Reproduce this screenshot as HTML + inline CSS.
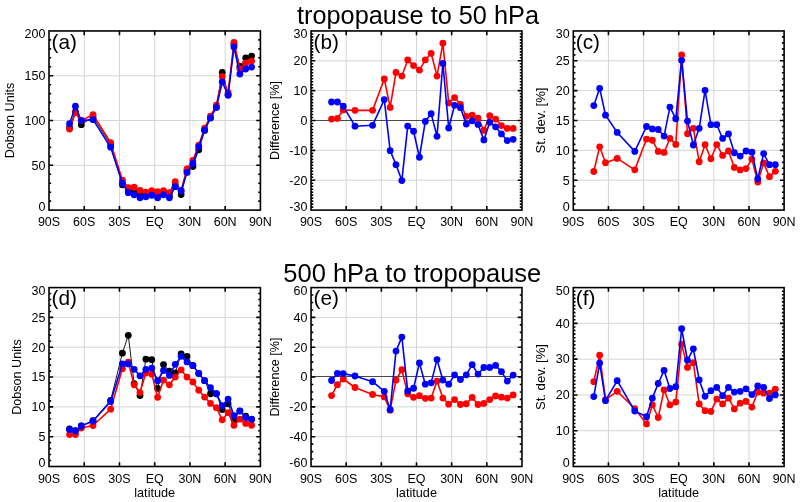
<!DOCTYPE html>
<html><head><meta charset="utf-8"><style>
html,body{margin:0;padding:0;background:#fff;}
svg{display:block;will-change:transform;}
</style></head><body>
<svg width="800" height="502" viewBox="0 0 800 502" font-family="&quot;Liberation Sans&quot;, sans-serif" fill="#000">
<rect width="800" height="502" fill="#fff"/>
<text x="418" y="23.6" font-size="25.3" text-anchor="middle">tropopause to 50 hPa</text>
<text x="412.3" y="281.5" font-size="25.5" text-anchor="middle">500 hPa to tropopause</text>
<g stroke="#d6d6d6" stroke-width="1"><line x1="84.23" y1="30.95" x2="84.23" y2="210.1"/><line x1="119.47" y1="30.95" x2="119.47" y2="210.1"/><line x1="154.7" y1="30.95" x2="154.7" y2="210.1"/><line x1="189.93" y1="30.95" x2="189.93" y2="210.1"/><line x1="225.17" y1="30.95" x2="225.17" y2="210.1"/><line x1="49" y1="165.31" x2="260.4" y2="165.31"/><line x1="49" y1="120.52" x2="260.4" y2="120.52"/><line x1="49" y1="75.74" x2="260.4" y2="75.74"/></g>
<polyline points="69.55,127.69 75.42,111.57 81.3,124.65 93.04,116.94 110.66,144.71 122.4,184.75 128.28,190.39 134.15,191.29 140.02,193.98 145.89,194.87 151.76,193.98 157.64,195.77 163.51,193.98 169.38,195.77 175.25,185.02 181.12,194.6 187,170.69 192.87,166.48 198.74,149.82 204.61,130.38 210.49,117.84 216.36,107.09 222.23,72.42 228.1,94.55 233.97,44.39 239.85,66.51 245.72,58 251.59,56.03" fill="none" stroke="#000" stroke-width="0.9" stroke-linejoin="round"/>
<g fill="#000"><circle cx="69.55" cy="127.69" r="3.4"/><circle cx="75.42" cy="111.57" r="3.4"/><circle cx="81.3" cy="124.65" r="3.4"/><circle cx="93.04" cy="116.94" r="3.4"/><circle cx="110.66" cy="144.71" r="3.4"/><circle cx="122.4" cy="184.75" r="3.4"/><circle cx="128.28" cy="190.39" r="3.4"/><circle cx="134.15" cy="191.29" r="3.4"/><circle cx="140.02" cy="193.98" r="3.4"/><circle cx="145.89" cy="194.87" r="3.4"/><circle cx="151.76" cy="193.98" r="3.4"/><circle cx="157.64" cy="195.77" r="3.4"/><circle cx="163.51" cy="193.98" r="3.4"/><circle cx="169.38" cy="195.77" r="3.4"/><circle cx="175.25" cy="185.02" r="3.4"/><circle cx="181.12" cy="194.6" r="3.4"/><circle cx="187" cy="170.69" r="3.4"/><circle cx="192.87" cy="166.48" r="3.4"/><circle cx="198.74" cy="149.82" r="3.4"/><circle cx="204.61" cy="130.38" r="3.4"/><circle cx="210.49" cy="117.84" r="3.4"/><circle cx="216.36" cy="107.09" r="3.4"/><circle cx="222.23" cy="72.42" r="3.4"/><circle cx="228.1" cy="94.55" r="3.4"/><circle cx="233.97" cy="44.39" r="3.4"/><circle cx="239.85" cy="66.51" r="3.4"/><circle cx="245.72" cy="58" r="3.4"/><circle cx="251.59" cy="56.03" r="3.4"/></g>
<polyline points="69.55,129.12 75.42,112.64 81.3,120.52 93.04,114.61 110.66,142.65 122.4,180.27 128.28,187.71 134.15,187.26 140.02,190.3 145.89,192.27 151.76,190.75 157.64,191.74 163.51,190.75 169.38,192.72 175.25,181.7 181.12,190.39 187,168.81 192.87,160.48 198.74,145.16 204.61,128.14 210.49,116.05 216.36,105.12 222.23,76.72 228.1,92.67 233.97,42.51 239.85,69.02 245.72,63.02 251.59,61.05" fill="none" stroke="#ff0000" stroke-width="1.6" stroke-linejoin="round"/>
<g fill="#ff0000"><circle cx="69.55" cy="129.12" r="3.4"/><circle cx="75.42" cy="112.64" r="3.4"/><circle cx="81.3" cy="120.52" r="3.4"/><circle cx="93.04" cy="114.61" r="3.4"/><circle cx="110.66" cy="142.65" r="3.4"/><circle cx="122.4" cy="180.27" r="3.4"/><circle cx="128.28" cy="187.71" r="3.4"/><circle cx="134.15" cy="187.26" r="3.4"/><circle cx="140.02" cy="190.3" r="3.4"/><circle cx="145.89" cy="192.27" r="3.4"/><circle cx="151.76" cy="190.75" r="3.4"/><circle cx="157.64" cy="191.74" r="3.4"/><circle cx="163.51" cy="190.75" r="3.4"/><circle cx="169.38" cy="192.72" r="3.4"/><circle cx="175.25" cy="181.7" r="3.4"/><circle cx="181.12" cy="190.39" r="3.4"/><circle cx="187" cy="168.81" r="3.4"/><circle cx="192.87" cy="160.48" r="3.4"/><circle cx="198.74" cy="145.16" r="3.4"/><circle cx="204.61" cy="128.14" r="3.4"/><circle cx="210.49" cy="116.05" r="3.4"/><circle cx="216.36" cy="105.12" r="3.4"/><circle cx="222.23" cy="76.72" r="3.4"/><circle cx="228.1" cy="92.67" r="3.4"/><circle cx="233.97" cy="42.51" r="3.4"/><circle cx="239.85" cy="69.02" r="3.4"/><circle cx="245.72" cy="63.02" r="3.4"/><circle cx="251.59" cy="61.05" r="3.4"/></g>
<polyline points="69.55,123.66 75.42,106.19 81.3,120.61 93.04,119.63 110.66,147.22 122.4,183.23 128.28,192.72 134.15,194.78 140.02,197.74 145.89,196.75 151.76,195.23 157.64,197.74 163.51,194.78 169.38,197.74 175.25,186.72 181.12,191.02 187,172.39 192.87,163.52 198.74,146.77 204.61,130.11 210.49,117.93 216.36,107.54 222.23,82.01 228.1,95.26 233.97,46.98 239.85,74.04 245.72,69.02 251.59,67.05" fill="none" stroke="#0000ff" stroke-width="1.6" stroke-linejoin="round"/>
<g fill="#0000ff"><circle cx="69.55" cy="123.66" r="3.4"/><circle cx="75.42" cy="106.19" r="3.4"/><circle cx="81.3" cy="120.61" r="3.4"/><circle cx="93.04" cy="119.63" r="3.4"/><circle cx="110.66" cy="147.22" r="3.4"/><circle cx="122.4" cy="183.23" r="3.4"/><circle cx="128.28" cy="192.72" r="3.4"/><circle cx="134.15" cy="194.78" r="3.4"/><circle cx="140.02" cy="197.74" r="3.4"/><circle cx="145.89" cy="196.75" r="3.4"/><circle cx="151.76" cy="195.23" r="3.4"/><circle cx="157.64" cy="197.74" r="3.4"/><circle cx="163.51" cy="194.78" r="3.4"/><circle cx="169.38" cy="197.74" r="3.4"/><circle cx="175.25" cy="186.72" r="3.4"/><circle cx="181.12" cy="191.02" r="3.4"/><circle cx="187" cy="172.39" r="3.4"/><circle cx="192.87" cy="163.52" r="3.4"/><circle cx="198.74" cy="146.77" r="3.4"/><circle cx="204.61" cy="130.11" r="3.4"/><circle cx="210.49" cy="117.93" r="3.4"/><circle cx="216.36" cy="107.54" r="3.4"/><circle cx="222.23" cy="82.01" r="3.4"/><circle cx="228.1" cy="95.26" r="3.4"/><circle cx="233.97" cy="46.98" r="3.4"/><circle cx="239.85" cy="74.04" r="3.4"/><circle cx="245.72" cy="69.02" r="3.4"/><circle cx="251.59" cy="67.05" r="3.4"/></g>
<path d="M84.23 210.1v-4.2M84.23 30.95v4.2M119.47 210.1v-4.2M119.47 30.95v4.2M154.7 210.1v-4.2M154.7 30.95v4.2M189.93 210.1v-4.2M189.93 30.95v4.2M225.17 210.1v-4.2M225.17 30.95v4.2M49 201.14h2.2M260.4 201.14h-2.2M49 192.19h2.2M260.4 192.19h-2.2M49 183.23h2.2M260.4 183.23h-2.2M49 174.27h2.2M260.4 174.27h-2.2M49 165.31h4.2M260.4 165.31h-4.2M49 156.35h2.2M260.4 156.35h-2.2M49 147.4h2.2M260.4 147.4h-2.2M49 138.44h2.2M260.4 138.44h-2.2M49 129.48h2.2M260.4 129.48h-2.2M49 120.52h4.2M260.4 120.52h-4.2M49 111.57h2.2M260.4 111.57h-2.2M49 102.61h2.2M260.4 102.61h-2.2M49 93.65h2.2M260.4 93.65h-2.2M49 84.69h2.2M260.4 84.69h-2.2M49 75.74h4.2M260.4 75.74h-4.2M49 66.78h2.2M260.4 66.78h-2.2M49 57.82h2.2M260.4 57.82h-2.2M49 48.86h2.2M260.4 48.86h-2.2M49 39.91h2.2M260.4 39.91h-2.2" stroke="#000" stroke-width="1.6" fill="none"/>
<rect x="49" y="30.95" width="211.4" height="179.15" fill="none" stroke="#000" stroke-width="1.6"/>
<text x="51.5" y="48.75" font-size="20.8">(a)</text>
<g font-size="12.5" text-anchor="middle"><text x="49" y="226.3">90S</text><text x="84.23" y="226.3">60S</text><text x="119.47" y="226.3">30S</text><text x="154.7" y="226.3">EQ</text><text x="189.93" y="226.3">30N</text><text x="225.17" y="226.3">60N</text><text x="260.4" y="226.3">90N</text></g>
<g font-size="12.5" text-anchor="end"><text x="45.4" y="211">0</text><text x="45.4" y="169.61">50</text><text x="45.4" y="124.82">100</text><text x="45.4" y="80.04">150</text><text x="45.4" y="37.95">200</text></g>
<text transform="translate(14.05,120.52) rotate(-90)" font-size="12.6" text-anchor="middle">Dobson Units</text>
<g stroke="#d6d6d6" stroke-width="1"><line x1="346.2" y1="30.95" x2="346.2" y2="210.1"/><line x1="381.35" y1="30.95" x2="381.35" y2="210.1"/><line x1="416.5" y1="30.95" x2="416.5" y2="210.1"/><line x1="451.65" y1="30.95" x2="451.65" y2="210.1"/><line x1="486.8" y1="30.95" x2="486.8" y2="210.1"/><line x1="311.05" y1="180.24" x2="521.95" y2="180.24"/><line x1="311.05" y1="150.38" x2="521.95" y2="150.38"/><line x1="311.05" y1="90.67" x2="521.95" y2="90.67"/><line x1="311.05" y1="60.81" x2="521.95" y2="60.81"/></g>
<line x1="311.05" y1="120.5" x2="521.95" y2="120.5" stroke="#4a4a4a" stroke-width="1"/>
<polyline points="331.55,119.03 337.41,118.43 343.27,110.07 354.99,110.37 372.56,110.37 384.28,79.02 390.14,107.39 396,72.45 401.85,76.04 407.71,59.91 413.57,65.59 419.43,70.06 425.29,59.91 431.15,53.34 437,76.04 442.86,43.19 448.72,102.91 454.58,97.53 460.44,104.4 466.3,116.34 472.15,115.15 478.01,118.14 483.87,130.38 489.73,115.75 495.59,119.03 501.45,125.6 507.3,128.44 513.16,128.44" fill="none" stroke="#ff0000" stroke-width="1.6" stroke-linejoin="round"/>
<g fill="#ff0000"><circle cx="331.55" cy="119.03" r="3.4"/><circle cx="337.41" cy="118.43" r="3.4"/><circle cx="343.27" cy="110.07" r="3.4"/><circle cx="354.99" cy="110.37" r="3.4"/><circle cx="372.56" cy="110.37" r="3.4"/><circle cx="384.28" cy="79.02" r="3.4"/><circle cx="390.14" cy="107.39" r="3.4"/><circle cx="396" cy="72.45" r="3.4"/><circle cx="401.85" cy="76.04" r="3.4"/><circle cx="407.71" cy="59.91" r="3.4"/><circle cx="413.57" cy="65.59" r="3.4"/><circle cx="419.43" cy="70.06" r="3.4"/><circle cx="425.29" cy="59.91" r="3.4"/><circle cx="431.15" cy="53.34" r="3.4"/><circle cx="437" cy="76.04" r="3.4"/><circle cx="442.86" cy="43.19" r="3.4"/><circle cx="448.72" cy="102.91" r="3.4"/><circle cx="454.58" cy="97.53" r="3.4"/><circle cx="460.44" cy="104.4" r="3.4"/><circle cx="466.3" cy="116.34" r="3.4"/><circle cx="472.15" cy="115.15" r="3.4"/><circle cx="478.01" cy="118.14" r="3.4"/><circle cx="483.87" cy="130.38" r="3.4"/><circle cx="489.73" cy="115.75" r="3.4"/><circle cx="495.59" cy="119.03" r="3.4"/><circle cx="501.45" cy="125.6" r="3.4"/><circle cx="507.3" cy="128.44" r="3.4"/><circle cx="513.16" cy="128.44" r="3.4"/></g>
<polyline points="331.55,102.01 337.41,102.01 343.27,106.19 354.99,126.2 372.56,125.3 384.28,99.62 390.14,150.68 396,164.72 401.85,180.54 407.71,126.05 413.57,131.27 419.43,157.25 425.29,121.42 431.15,113.66 437,136.35 442.86,63.5 448.72,127.99 454.58,105.3 460.44,107.69 466.3,124.11 472.15,120.82 478.01,124.41 483.87,139.93 489.73,122.32 495.59,126.8 501.45,133.96 507.3,140.53 513.16,139.34" fill="none" stroke="#0000ff" stroke-width="1.6" stroke-linejoin="round"/>
<g fill="#0000ff"><circle cx="331.55" cy="102.01" r="3.4"/><circle cx="337.41" cy="102.01" r="3.4"/><circle cx="343.27" cy="106.19" r="3.4"/><circle cx="354.99" cy="126.2" r="3.4"/><circle cx="372.56" cy="125.3" r="3.4"/><circle cx="384.28" cy="99.62" r="3.4"/><circle cx="390.14" cy="150.68" r="3.4"/><circle cx="396" cy="164.72" r="3.4"/><circle cx="401.85" cy="180.54" r="3.4"/><circle cx="407.71" cy="126.05" r="3.4"/><circle cx="413.57" cy="131.27" r="3.4"/><circle cx="419.43" cy="157.25" r="3.4"/><circle cx="425.29" cy="121.42" r="3.4"/><circle cx="431.15" cy="113.66" r="3.4"/><circle cx="437" cy="136.35" r="3.4"/><circle cx="442.86" cy="63.5" r="3.4"/><circle cx="448.72" cy="127.99" r="3.4"/><circle cx="454.58" cy="105.3" r="3.4"/><circle cx="460.44" cy="107.69" r="3.4"/><circle cx="466.3" cy="124.11" r="3.4"/><circle cx="472.15" cy="120.82" r="3.4"/><circle cx="478.01" cy="124.41" r="3.4"/><circle cx="483.87" cy="139.93" r="3.4"/><circle cx="489.73" cy="122.32" r="3.4"/><circle cx="495.59" cy="126.8" r="3.4"/><circle cx="501.45" cy="133.96" r="3.4"/><circle cx="507.3" cy="140.53" r="3.4"/><circle cx="513.16" cy="139.34" r="3.4"/></g>
<path d="M346.2 210.1v-4.2M346.2 30.95v4.2M381.35 210.1v-4.2M381.35 30.95v4.2M416.5 210.1v-4.2M416.5 30.95v4.2M451.65 210.1v-4.2M451.65 30.95v4.2M486.8 210.1v-4.2M486.8 30.95v4.2M311.05 207.11h2.2M521.95 207.11h-2.2M311.05 204.13h2.2M521.95 204.13h-2.2M311.05 201.14h2.2M521.95 201.14h-2.2M311.05 198.16h2.2M521.95 198.16h-2.2M311.05 195.17h2.2M521.95 195.17h-2.2M311.05 192.19h2.2M521.95 192.19h-2.2M311.05 189.2h2.2M521.95 189.2h-2.2M311.05 186.21h2.2M521.95 186.21h-2.2M311.05 183.23h2.2M521.95 183.23h-2.2M311.05 180.24h4.2M521.95 180.24h-4.2M311.05 177.26h2.2M521.95 177.26h-2.2M311.05 174.27h2.2M521.95 174.27h-2.2M311.05 171.28h2.2M521.95 171.28h-2.2M311.05 168.3h2.2M521.95 168.3h-2.2M311.05 165.31h2.2M521.95 165.31h-2.2M311.05 162.33h2.2M521.95 162.33h-2.2M311.05 159.34h2.2M521.95 159.34h-2.2M311.05 156.35h2.2M521.95 156.35h-2.2M311.05 153.37h2.2M521.95 153.37h-2.2M311.05 150.38h4.2M521.95 150.38h-4.2M311.05 147.4h2.2M521.95 147.4h-2.2M311.05 144.41h2.2M521.95 144.41h-2.2M311.05 141.43h2.2M521.95 141.43h-2.2M311.05 138.44h2.2M521.95 138.44h-2.2M311.05 135.45h2.2M521.95 135.45h-2.2M311.05 132.47h2.2M521.95 132.47h-2.2M311.05 129.48h2.2M521.95 129.48h-2.2M311.05 126.5h2.2M521.95 126.5h-2.2M311.05 123.51h2.2M521.95 123.51h-2.2M311.05 120.52h4.2M521.95 120.52h-4.2M311.05 117.54h2.2M521.95 117.54h-2.2M311.05 114.55h2.2M521.95 114.55h-2.2M311.05 111.57h2.2M521.95 111.57h-2.2M311.05 108.58h2.2M521.95 108.58h-2.2M311.05 105.6h2.2M521.95 105.6h-2.2M311.05 102.61h2.2M521.95 102.61h-2.2M311.05 99.62h2.2M521.95 99.62h-2.2M311.05 96.64h2.2M521.95 96.64h-2.2M311.05 93.65h2.2M521.95 93.65h-2.2M311.05 90.67h4.2M521.95 90.67h-4.2M311.05 87.68h2.2M521.95 87.68h-2.2M311.05 84.69h2.2M521.95 84.69h-2.2M311.05 81.71h2.2M521.95 81.71h-2.2M311.05 78.72h2.2M521.95 78.72h-2.2M311.05 75.74h2.2M521.95 75.74h-2.2M311.05 72.75h2.2M521.95 72.75h-2.2M311.05 69.77h2.2M521.95 69.77h-2.2M311.05 66.78h2.2M521.95 66.78h-2.2M311.05 63.79h2.2M521.95 63.79h-2.2M311.05 60.81h4.2M521.95 60.81h-4.2M311.05 57.82h2.2M521.95 57.82h-2.2M311.05 54.84h2.2M521.95 54.84h-2.2M311.05 51.85h2.2M521.95 51.85h-2.2M311.05 48.86h2.2M521.95 48.86h-2.2M311.05 45.88h2.2M521.95 45.88h-2.2M311.05 42.89h2.2M521.95 42.89h-2.2M311.05 39.91h2.2M521.95 39.91h-2.2M311.05 36.92h2.2M521.95 36.92h-2.2M311.05 33.94h2.2M521.95 33.94h-2.2" stroke="#000" stroke-width="1.6" fill="none"/>
<rect x="311.05" y="30.95" width="210.9" height="179.15" fill="none" stroke="#000" stroke-width="1.6"/>
<text x="313.55" y="48.75" font-size="20.8">(b)</text>
<g font-size="12.5" text-anchor="middle"><text x="311.05" y="226.3">90S</text><text x="346.2" y="226.3">60S</text><text x="381.35" y="226.3">30S</text><text x="416.5" y="226.3">EQ</text><text x="451.65" y="226.3">30N</text><text x="486.8" y="226.3">60N</text><text x="521.95" y="226.3">90N</text></g>
<g font-size="12.5" text-anchor="end"><text x="307.45" y="211">-30</text><text x="307.45" y="184.54">-20</text><text x="307.45" y="154.68">-10</text><text x="307.45" y="124.82">0</text><text x="307.45" y="94.97">10</text><text x="307.45" y="65.11">20</text><text x="307.45" y="37.95">30</text></g>
<text transform="translate(279.05,120.52) rotate(-90)" font-size="12.6" text-anchor="middle">Difference [%]</text>
<g stroke="#d6d6d6" stroke-width="1"><line x1="608.43" y1="30.95" x2="608.43" y2="210.1"/><line x1="643.57" y1="30.95" x2="643.57" y2="210.1"/><line x1="678.7" y1="30.95" x2="678.7" y2="210.1"/><line x1="713.83" y1="30.95" x2="713.83" y2="210.1"/><line x1="748.97" y1="30.95" x2="748.97" y2="210.1"/><line x1="573.3" y1="180.24" x2="784.1" y2="180.24"/><line x1="573.3" y1="150.38" x2="784.1" y2="150.38"/><line x1="573.3" y1="120.52" x2="784.1" y2="120.52"/><line x1="573.3" y1="90.67" x2="784.1" y2="90.67"/><line x1="573.3" y1="60.81" x2="784.1" y2="60.81"/></g>
<polyline points="593.79,171.52 599.65,146.8 605.51,162.63 617.22,158.39 634.78,169.85 646.49,139.04 652.35,140.23 658.21,151.4 664.06,152.41 669.92,138.44 675.77,144.41 681.63,55.02 687.48,133.66 693.34,128.29 699.19,161.73 705.05,144.71 710.91,158.74 716.76,144.71 722.62,155.46 728.47,150.98 734.33,167.4 740.18,169.91 746.04,168.6 751.89,159.04 757.75,182.03 763.61,162.92 769.46,176.66 775.32,171.28" fill="none" stroke="#ff0000" stroke-width="1.6" stroke-linejoin="round"/>
<g fill="#ff0000"><circle cx="593.79" cy="171.52" r="3.4"/><circle cx="599.65" cy="146.8" r="3.4"/><circle cx="605.51" cy="162.63" r="3.4"/><circle cx="617.22" cy="158.39" r="3.4"/><circle cx="634.78" cy="169.85" r="3.4"/><circle cx="646.49" cy="139.04" r="3.4"/><circle cx="652.35" cy="140.23" r="3.4"/><circle cx="658.21" cy="151.4" r="3.4"/><circle cx="664.06" cy="152.41" r="3.4"/><circle cx="669.92" cy="138.44" r="3.4"/><circle cx="675.77" cy="144.41" r="3.4"/><circle cx="681.63" cy="55.02" r="3.4"/><circle cx="687.48" cy="133.66" r="3.4"/><circle cx="693.34" cy="128.29" r="3.4"/><circle cx="699.19" cy="161.73" r="3.4"/><circle cx="705.05" cy="144.71" r="3.4"/><circle cx="710.91" cy="158.74" r="3.4"/><circle cx="716.76" cy="144.71" r="3.4"/><circle cx="722.62" cy="155.46" r="3.4"/><circle cx="728.47" cy="150.98" r="3.4"/><circle cx="734.33" cy="167.4" r="3.4"/><circle cx="740.18" cy="169.91" r="3.4"/><circle cx="746.04" cy="168.6" r="3.4"/><circle cx="751.89" cy="159.04" r="3.4"/><circle cx="757.75" cy="182.03" r="3.4"/><circle cx="763.61" cy="162.92" r="3.4"/><circle cx="769.46" cy="176.66" r="3.4"/><circle cx="775.32" cy="171.28" r="3.4"/></g>
<polyline points="593.79,105.6 599.65,88.28 605.51,115.15 617.22,132.47 634.78,151.4 646.49,126.5 652.35,128.89 658.21,129.48 664.06,136.05 669.92,107.09 675.77,118.73 681.63,60.33 687.48,121.12 693.34,145.01 699.19,128.29 705.05,90.37 710.91,124.71 716.76,124.71 722.62,138.44 728.47,133.96 734.33,152.77 740.18,156.06 746.04,150.98 751.89,152.17 757.75,178.87 763.61,153.61 769.46,164.72 775.32,164.72" fill="none" stroke="#0000ff" stroke-width="1.6" stroke-linejoin="round"/>
<g fill="#0000ff"><circle cx="593.79" cy="105.6" r="3.4"/><circle cx="599.65" cy="88.28" r="3.4"/><circle cx="605.51" cy="115.15" r="3.4"/><circle cx="617.22" cy="132.47" r="3.4"/><circle cx="634.78" cy="151.4" r="3.4"/><circle cx="646.49" cy="126.5" r="3.4"/><circle cx="652.35" cy="128.89" r="3.4"/><circle cx="658.21" cy="129.48" r="3.4"/><circle cx="664.06" cy="136.05" r="3.4"/><circle cx="669.92" cy="107.09" r="3.4"/><circle cx="675.77" cy="118.73" r="3.4"/><circle cx="681.63" cy="60.33" r="3.4"/><circle cx="687.48" cy="121.12" r="3.4"/><circle cx="693.34" cy="145.01" r="3.4"/><circle cx="699.19" cy="128.29" r="3.4"/><circle cx="705.05" cy="90.37" r="3.4"/><circle cx="710.91" cy="124.71" r="3.4"/><circle cx="716.76" cy="124.71" r="3.4"/><circle cx="722.62" cy="138.44" r="3.4"/><circle cx="728.47" cy="133.96" r="3.4"/><circle cx="734.33" cy="152.77" r="3.4"/><circle cx="740.18" cy="156.06" r="3.4"/><circle cx="746.04" cy="150.98" r="3.4"/><circle cx="751.89" cy="152.17" r="3.4"/><circle cx="757.75" cy="178.87" r="3.4"/><circle cx="763.61" cy="153.61" r="3.4"/><circle cx="769.46" cy="164.72" r="3.4"/><circle cx="775.32" cy="164.72" r="3.4"/></g>
<path d="M608.43 210.1v-4.2M608.43 30.95v4.2M643.57 210.1v-4.2M643.57 30.95v4.2M678.7 210.1v-4.2M678.7 30.95v4.2M713.83 210.1v-4.2M713.83 30.95v4.2M748.97 210.1v-4.2M748.97 30.95v4.2M573.3 204.13h2.2M784.1 204.13h-2.2M573.3 198.16h2.2M784.1 198.16h-2.2M573.3 192.19h2.2M784.1 192.19h-2.2M573.3 186.21h2.2M784.1 186.21h-2.2M573.3 180.24h4.2M784.1 180.24h-4.2M573.3 174.27h2.2M784.1 174.27h-2.2M573.3 168.3h2.2M784.1 168.3h-2.2M573.3 162.33h2.2M784.1 162.33h-2.2M573.3 156.35h2.2M784.1 156.35h-2.2M573.3 150.38h4.2M784.1 150.38h-4.2M573.3 144.41h2.2M784.1 144.41h-2.2M573.3 138.44h2.2M784.1 138.44h-2.2M573.3 132.47h2.2M784.1 132.47h-2.2M573.3 126.5h2.2M784.1 126.5h-2.2M573.3 120.52h4.2M784.1 120.52h-4.2M573.3 114.55h2.2M784.1 114.55h-2.2M573.3 108.58h2.2M784.1 108.58h-2.2M573.3 102.61h2.2M784.1 102.61h-2.2M573.3 96.64h2.2M784.1 96.64h-2.2M573.3 90.67h4.2M784.1 90.67h-4.2M573.3 84.69h2.2M784.1 84.69h-2.2M573.3 78.72h2.2M784.1 78.72h-2.2M573.3 72.75h2.2M784.1 72.75h-2.2M573.3 66.78h2.2M784.1 66.78h-2.2M573.3 60.81h4.2M784.1 60.81h-4.2M573.3 54.84h2.2M784.1 54.84h-2.2M573.3 48.86h2.2M784.1 48.86h-2.2M573.3 42.89h2.2M784.1 42.89h-2.2M573.3 36.92h2.2M784.1 36.92h-2.2" stroke="#000" stroke-width="1.6" fill="none"/>
<rect x="573.3" y="30.95" width="210.8" height="179.15" fill="none" stroke="#000" stroke-width="1.6"/>
<text x="575.8" y="48.75" font-size="20.8">(c)</text>
<g font-size="12.5" text-anchor="middle"><text x="573.3" y="226.3">90S</text><text x="608.43" y="226.3">60S</text><text x="643.57" y="226.3">30S</text><text x="678.7" y="226.3">EQ</text><text x="713.83" y="226.3">30N</text><text x="748.97" y="226.3">60N</text><text x="784.1" y="226.3">90N</text></g>
<g font-size="12.5" text-anchor="end"><text x="569.7" y="211">0</text><text x="569.7" y="184.54">5</text><text x="569.7" y="154.68">10</text><text x="569.7" y="124.82">15</text><text x="569.7" y="94.97">20</text><text x="569.7" y="65.11">25</text><text x="569.7" y="37.95">30</text></g>
<text transform="translate(544.9,120.52) rotate(-90)" font-size="13.1" text-anchor="middle">St. dev. [%]</text>
<g stroke="#d6d6d6" stroke-width="1"><line x1="84.23" y1="287.6" x2="84.23" y2="466.5"/><line x1="119.47" y1="287.6" x2="119.47" y2="466.5"/><line x1="154.7" y1="287.6" x2="154.7" y2="466.5"/><line x1="189.93" y1="287.6" x2="189.93" y2="466.5"/><line x1="225.17" y1="287.6" x2="225.17" y2="466.5"/><line x1="49" y1="436.68" x2="260.4" y2="436.68"/><line x1="49" y1="406.87" x2="260.4" y2="406.87"/><line x1="49" y1="377.05" x2="260.4" y2="377.05"/><line x1="49" y1="347.23" x2="260.4" y2="347.23"/><line x1="49" y1="317.42" x2="260.4" y2="317.42"/></g>
<polyline points="69.55,428.93 75.42,430.72 81.3,425.95 93.04,420.58 110.66,400.31 122.4,353.2 128.28,335.31 134.15,383.61 140.02,395.54 145.89,359.16 151.76,359.76 157.64,388.38 163.51,364.53 169.38,371.09 175.25,372.88 181.12,353.97 187,356.36 192.87,365.72 198.74,373.47 204.61,380.63 210.49,393.75 216.36,393.75 222.23,409.61 228.1,403.77 233.97,419.81 239.85,411.04 245.72,416.23 251.59,419.39" fill="none" stroke="#000" stroke-width="0.9" stroke-linejoin="round"/>
<g fill="#000"><circle cx="69.55" cy="428.93" r="3.4"/><circle cx="75.42" cy="430.72" r="3.4"/><circle cx="81.3" cy="425.95" r="3.4"/><circle cx="93.04" cy="420.58" r="3.4"/><circle cx="110.66" cy="400.31" r="3.4"/><circle cx="122.4" cy="353.2" r="3.4"/><circle cx="128.28" cy="335.31" r="3.4"/><circle cx="134.15" cy="383.61" r="3.4"/><circle cx="140.02" cy="395.54" r="3.4"/><circle cx="145.89" cy="359.16" r="3.4"/><circle cx="151.76" cy="359.76" r="3.4"/><circle cx="157.64" cy="388.38" r="3.4"/><circle cx="163.51" cy="364.53" r="3.4"/><circle cx="169.38" cy="371.09" r="3.4"/><circle cx="175.25" cy="372.88" r="3.4"/><circle cx="181.12" cy="353.97" r="3.4"/><circle cx="187" cy="356.36" r="3.4"/><circle cx="192.87" cy="365.72" r="3.4"/><circle cx="198.74" cy="373.47" r="3.4"/><circle cx="204.61" cy="380.63" r="3.4"/><circle cx="210.49" cy="393.75" r="3.4"/><circle cx="216.36" cy="393.75" r="3.4"/><circle cx="222.23" cy="409.61" r="3.4"/><circle cx="228.1" cy="403.77" r="3.4"/><circle cx="233.97" cy="419.81" r="3.4"/><circle cx="239.85" cy="411.04" r="3.4"/><circle cx="245.72" cy="416.23" r="3.4"/><circle cx="251.59" cy="419.39" r="3.4"/></g>
<polyline points="69.55,434.54 75.42,434.54 81.3,428.04 93.04,425.53 110.66,409.13 122.4,368.7 128.28,362.14 134.15,384.8 140.02,392.55 145.89,372.88 151.76,374.07 157.64,397.33 163.51,380.03 169.38,384.8 175.25,377.05 181.12,369.89 187,377.05 192.87,381.88 198.74,390.23 204.61,397.03 210.49,403.41 216.36,407.64 222.23,419.81 228.1,412.65 233.97,425.23 239.85,419.21 245.72,423.44 251.59,425.23" fill="none" stroke="#ff0000" stroke-width="1.6" stroke-linejoin="round"/>
<g fill="#ff0000"><circle cx="69.55" cy="434.54" r="3.4"/><circle cx="75.42" cy="434.54" r="3.4"/><circle cx="81.3" cy="428.04" r="3.4"/><circle cx="93.04" cy="425.53" r="3.4"/><circle cx="110.66" cy="409.13" r="3.4"/><circle cx="122.4" cy="368.7" r="3.4"/><circle cx="128.28" cy="362.14" r="3.4"/><circle cx="134.15" cy="384.8" r="3.4"/><circle cx="140.02" cy="392.55" r="3.4"/><circle cx="145.89" cy="372.88" r="3.4"/><circle cx="151.76" cy="374.07" r="3.4"/><circle cx="157.64" cy="397.33" r="3.4"/><circle cx="163.51" cy="380.03" r="3.4"/><circle cx="169.38" cy="384.8" r="3.4"/><circle cx="175.25" cy="377.05" r="3.4"/><circle cx="181.12" cy="369.89" r="3.4"/><circle cx="187" cy="377.05" r="3.4"/><circle cx="192.87" cy="381.88" r="3.4"/><circle cx="198.74" cy="390.23" r="3.4"/><circle cx="204.61" cy="397.03" r="3.4"/><circle cx="210.49" cy="403.41" r="3.4"/><circle cx="216.36" cy="407.64" r="3.4"/><circle cx="222.23" cy="419.81" r="3.4"/><circle cx="228.1" cy="412.65" r="3.4"/><circle cx="233.97" cy="425.23" r="3.4"/><circle cx="239.85" cy="419.21" r="3.4"/><circle cx="245.72" cy="423.44" r="3.4"/><circle cx="251.59" cy="425.23" r="3.4"/></g>
<polyline points="69.55,429.53 75.42,431.02 81.3,426.01 93.04,421 110.66,401.5 122.4,363.93 128.28,363.93 134.15,369.3 140.02,375.86 145.89,369.3 151.76,368.11 157.64,380.63 163.51,370.49 169.38,375.44 175.25,364.35 181.12,356.36 187,361.96 192.87,365.48 198.74,373.35 204.61,380.63 210.49,387.66 216.36,393.75 222.23,405.67 228.1,399.11 233.97,415.63 239.85,410.86 245.72,417.42 251.59,419.21" fill="none" stroke="#0000ff" stroke-width="1.6" stroke-linejoin="round"/>
<g fill="#0000ff"><circle cx="69.55" cy="429.53" r="3.4"/><circle cx="75.42" cy="431.02" r="3.4"/><circle cx="81.3" cy="426.01" r="3.4"/><circle cx="93.04" cy="421" r="3.4"/><circle cx="110.66" cy="401.5" r="3.4"/><circle cx="122.4" cy="363.93" r="3.4"/><circle cx="128.28" cy="363.93" r="3.4"/><circle cx="134.15" cy="369.3" r="3.4"/><circle cx="140.02" cy="375.86" r="3.4"/><circle cx="145.89" cy="369.3" r="3.4"/><circle cx="151.76" cy="368.11" r="3.4"/><circle cx="157.64" cy="380.63" r="3.4"/><circle cx="163.51" cy="370.49" r="3.4"/><circle cx="169.38" cy="375.44" r="3.4"/><circle cx="175.25" cy="364.35" r="3.4"/><circle cx="181.12" cy="356.36" r="3.4"/><circle cx="187" cy="361.96" r="3.4"/><circle cx="192.87" cy="365.48" r="3.4"/><circle cx="198.74" cy="373.35" r="3.4"/><circle cx="204.61" cy="380.63" r="3.4"/><circle cx="210.49" cy="387.66" r="3.4"/><circle cx="216.36" cy="393.75" r="3.4"/><circle cx="222.23" cy="405.67" r="3.4"/><circle cx="228.1" cy="399.11" r="3.4"/><circle cx="233.97" cy="415.63" r="3.4"/><circle cx="239.85" cy="410.86" r="3.4"/><circle cx="245.72" cy="417.42" r="3.4"/><circle cx="251.59" cy="419.21" r="3.4"/></g>
<path d="M84.23 466.5v-4.2M84.23 287.6v4.2M119.47 466.5v-4.2M119.47 287.6v4.2M154.7 466.5v-4.2M154.7 287.6v4.2M189.93 466.5v-4.2M189.93 287.6v4.2M225.17 466.5v-4.2M225.17 287.6v4.2M49 460.54h2.2M260.4 460.54h-2.2M49 454.57h2.2M260.4 454.57h-2.2M49 448.61h2.2M260.4 448.61h-2.2M49 442.65h2.2M260.4 442.65h-2.2M49 436.68h4.2M260.4 436.68h-4.2M49 430.72h2.2M260.4 430.72h-2.2M49 424.76h2.2M260.4 424.76h-2.2M49 418.79h2.2M260.4 418.79h-2.2M49 412.83h2.2M260.4 412.83h-2.2M49 406.87h4.2M260.4 406.87h-4.2M49 400.9h2.2M260.4 400.9h-2.2M49 394.94h2.2M260.4 394.94h-2.2M49 388.98h2.2M260.4 388.98h-2.2M49 383.01h2.2M260.4 383.01h-2.2M49 377.05h4.2M260.4 377.05h-4.2M49 371.09h2.2M260.4 371.09h-2.2M49 365.12h2.2M260.4 365.12h-2.2M49 359.16h2.2M260.4 359.16h-2.2M49 353.2h2.2M260.4 353.2h-2.2M49 347.23h4.2M260.4 347.23h-4.2M49 341.27h2.2M260.4 341.27h-2.2M49 335.31h2.2M260.4 335.31h-2.2M49 329.34h2.2M260.4 329.34h-2.2M49 323.38h2.2M260.4 323.38h-2.2M49 317.42h4.2M260.4 317.42h-4.2M49 311.45h2.2M260.4 311.45h-2.2M49 305.49h2.2M260.4 305.49h-2.2M49 299.53h2.2M260.4 299.53h-2.2M49 293.56h2.2M260.4 293.56h-2.2" stroke="#000" stroke-width="1.6" fill="none"/>
<rect x="49" y="287.6" width="211.4" height="178.9" fill="none" stroke="#000" stroke-width="1.6"/>
<text x="51.5" y="305.4" font-size="20.8">(d)</text>
<g font-size="12.5" text-anchor="middle"><text x="49" y="482.7">90S</text><text x="84.23" y="482.7">60S</text><text x="119.47" y="482.7">30S</text><text x="154.7" y="482.7">EQ</text><text x="189.93" y="482.7">30N</text><text x="225.17" y="482.7">60N</text><text x="260.4" y="482.7">90N</text></g>
<g font-size="12.5" text-anchor="end"><text x="45.4" y="467.4">0</text><text x="45.4" y="440.98">5</text><text x="45.4" y="411.17">10</text><text x="45.4" y="381.35">15</text><text x="45.4" y="351.53">20</text><text x="45.4" y="321.72">25</text><text x="45.4" y="294.6">30</text></g>
<text transform="translate(21.35,377.05) rotate(-90)" font-size="12.6" text-anchor="middle">Dobson Units</text>
<text x="154.7" y="496.9" font-size="12.7" text-anchor="middle">latitude</text>
<g stroke="#d6d6d6" stroke-width="1"><line x1="346.2" y1="287.6" x2="346.2" y2="466.5"/><line x1="381.35" y1="287.6" x2="381.35" y2="466.5"/><line x1="416.5" y1="287.6" x2="416.5" y2="466.5"/><line x1="451.65" y1="287.6" x2="451.65" y2="466.5"/><line x1="486.8" y1="287.6" x2="486.8" y2="466.5"/><line x1="311.05" y1="436.68" x2="521.95" y2="436.68"/><line x1="311.05" y1="406.87" x2="521.95" y2="406.87"/><line x1="311.05" y1="347.23" x2="521.95" y2="347.23"/><line x1="311.05" y1="317.42" x2="521.95" y2="317.42"/></g>
<line x1="311.05" y1="376.5" x2="521.95" y2="376.5" stroke="#4a4a4a" stroke-width="1"/>
<polyline points="331.55,395.54 337.41,384.65 343.27,378.99 354.99,387.49 372.56,394.49 384.28,396.88 390.14,410.15 396,380.18 401.85,369.74 407.71,393.75 413.57,397.33 419.43,395.69 425.29,398.37 431.15,398.07 437,381.08 442.86,398.07 448.72,404.18 454.58,399.56 460.44,404.48 466.3,403.74 472.15,397.47 478.01,404.48 483.87,403.44 489.73,399.56 495.59,395.98 501.45,397.18 507.3,398.07 513.16,394.94" fill="none" stroke="#ff0000" stroke-width="1.6" stroke-linejoin="round"/>
<g fill="#ff0000"><circle cx="331.55" cy="395.54" r="3.4"/><circle cx="337.41" cy="384.65" r="3.4"/><circle cx="343.27" cy="378.99" r="3.4"/><circle cx="354.99" cy="387.49" r="3.4"/><circle cx="372.56" cy="394.49" r="3.4"/><circle cx="384.28" cy="396.88" r="3.4"/><circle cx="390.14" cy="410.15" r="3.4"/><circle cx="396" cy="380.18" r="3.4"/><circle cx="401.85" cy="369.74" r="3.4"/><circle cx="407.71" cy="393.75" r="3.4"/><circle cx="413.57" cy="397.33" r="3.4"/><circle cx="419.43" cy="395.69" r="3.4"/><circle cx="425.29" cy="398.37" r="3.4"/><circle cx="431.15" cy="398.07" r="3.4"/><circle cx="437" cy="381.08" r="3.4"/><circle cx="442.86" cy="398.07" r="3.4"/><circle cx="448.72" cy="404.18" r="3.4"/><circle cx="454.58" cy="399.56" r="3.4"/><circle cx="460.44" cy="404.48" r="3.4"/><circle cx="466.3" cy="403.74" r="3.4"/><circle cx="472.15" cy="397.47" r="3.4"/><circle cx="478.01" cy="404.48" r="3.4"/><circle cx="483.87" cy="403.44" r="3.4"/><circle cx="489.73" cy="399.56" r="3.4"/><circle cx="495.59" cy="395.98" r="3.4"/><circle cx="501.45" cy="397.18" r="3.4"/><circle cx="507.3" cy="398.07" r="3.4"/><circle cx="513.16" cy="394.94" r="3.4"/></g>
<polyline points="331.55,380.48 337.41,373.32 343.27,373.62 354.99,376.01 372.56,381.67 384.28,391.36 390.14,409.7 396,351.11 401.85,337.1 407.71,390.91 413.57,388.23 419.43,362.89 425.29,384.21 431.15,382.86 437,359.61 442.86,380.03 448.72,384.21 454.58,374.81 460.44,379.58 466.3,374.81 472.15,364.68 478.01,374.07 483.87,367.51 489.73,367.51 495.59,365.42 501.45,371.68 507.3,381.08 513.16,375.11" fill="none" stroke="#0000ff" stroke-width="1.6" stroke-linejoin="round"/>
<g fill="#0000ff"><circle cx="331.55" cy="380.48" r="3.4"/><circle cx="337.41" cy="373.32" r="3.4"/><circle cx="343.27" cy="373.62" r="3.4"/><circle cx="354.99" cy="376.01" r="3.4"/><circle cx="372.56" cy="381.67" r="3.4"/><circle cx="384.28" cy="391.36" r="3.4"/><circle cx="390.14" cy="409.7" r="3.4"/><circle cx="396" cy="351.11" r="3.4"/><circle cx="401.85" cy="337.1" r="3.4"/><circle cx="407.71" cy="390.91" r="3.4"/><circle cx="413.57" cy="388.23" r="3.4"/><circle cx="419.43" cy="362.89" r="3.4"/><circle cx="425.29" cy="384.21" r="3.4"/><circle cx="431.15" cy="382.86" r="3.4"/><circle cx="437" cy="359.61" r="3.4"/><circle cx="442.86" cy="380.03" r="3.4"/><circle cx="448.72" cy="384.21" r="3.4"/><circle cx="454.58" cy="374.81" r="3.4"/><circle cx="460.44" cy="379.58" r="3.4"/><circle cx="466.3" cy="374.81" r="3.4"/><circle cx="472.15" cy="364.68" r="3.4"/><circle cx="478.01" cy="374.07" r="3.4"/><circle cx="483.87" cy="367.51" r="3.4"/><circle cx="489.73" cy="367.51" r="3.4"/><circle cx="495.59" cy="365.42" r="3.4"/><circle cx="501.45" cy="371.68" r="3.4"/><circle cx="507.3" cy="381.08" r="3.4"/><circle cx="513.16" cy="375.11" r="3.4"/></g>
<path d="M346.2 466.5v-4.2M346.2 287.6v4.2M381.35 466.5v-4.2M381.35 287.6v4.2M416.5 466.5v-4.2M416.5 287.6v4.2M451.65 466.5v-4.2M451.65 287.6v4.2M486.8 466.5v-4.2M486.8 287.6v4.2M311.05 459.05h2.2M521.95 459.05h-2.2M311.05 451.59h2.2M521.95 451.59h-2.2M311.05 444.14h2.2M521.95 444.14h-2.2M311.05 436.68h4.2M521.95 436.68h-4.2M311.05 429.23h2.2M521.95 429.23h-2.2M311.05 421.77h2.2M521.95 421.77h-2.2M311.05 414.32h2.2M521.95 414.32h-2.2M311.05 406.87h4.2M521.95 406.87h-4.2M311.05 399.41h2.2M521.95 399.41h-2.2M311.05 391.96h2.2M521.95 391.96h-2.2M311.05 384.5h2.2M521.95 384.5h-2.2M311.05 377.05h4.2M521.95 377.05h-4.2M311.05 369.6h2.2M521.95 369.6h-2.2M311.05 362.14h2.2M521.95 362.14h-2.2M311.05 354.69h2.2M521.95 354.69h-2.2M311.05 347.23h4.2M521.95 347.23h-4.2M311.05 339.78h2.2M521.95 339.78h-2.2M311.05 332.33h2.2M521.95 332.33h-2.2M311.05 324.87h2.2M521.95 324.87h-2.2M311.05 317.42h4.2M521.95 317.42h-4.2M311.05 309.96h2.2M521.95 309.96h-2.2M311.05 302.51h2.2M521.95 302.51h-2.2M311.05 295.05h2.2M521.95 295.05h-2.2" stroke="#000" stroke-width="1.6" fill="none"/>
<rect x="311.05" y="287.6" width="210.9" height="178.9" fill="none" stroke="#000" stroke-width="1.6"/>
<text x="313.55" y="305.4" font-size="20.8">(e)</text>
<g font-size="12.5" text-anchor="middle"><text x="311.05" y="482.7">90S</text><text x="346.2" y="482.7">60S</text><text x="381.35" y="482.7">30S</text><text x="416.5" y="482.7">EQ</text><text x="451.65" y="482.7">30N</text><text x="486.8" y="482.7">60N</text><text x="521.95" y="482.7">90N</text></g>
<g font-size="12.5" text-anchor="end"><text x="307.45" y="467.4">-60</text><text x="307.45" y="440.98">-40</text><text x="307.45" y="411.17">-20</text><text x="307.45" y="381.35">0</text><text x="307.45" y="351.53">20</text><text x="307.45" y="321.72">40</text><text x="307.45" y="294.6">60</text></g>
<text transform="translate(279.05,377.05) rotate(-90)" font-size="12.6" text-anchor="middle">Difference [%]</text>
<text x="416.5" y="496.9" font-size="12.7" text-anchor="middle">latitude</text>
<g stroke="#d6d6d6" stroke-width="1"><line x1="608.43" y1="287.6" x2="608.43" y2="466.5"/><line x1="643.57" y1="287.6" x2="643.57" y2="466.5"/><line x1="678.7" y1="287.6" x2="678.7" y2="466.5"/><line x1="713.83" y1="287.6" x2="713.83" y2="466.5"/><line x1="748.97" y1="287.6" x2="748.97" y2="466.5"/><line x1="573.3" y1="430.72" x2="784.1" y2="430.72"/><line x1="573.3" y1="394.94" x2="784.1" y2="394.94"/><line x1="573.3" y1="359.16" x2="784.1" y2="359.16"/><line x1="573.3" y1="323.38" x2="784.1" y2="323.38"/></g>
<polyline points="593.79,381.7 599.65,355.22 605.51,399.59 617.22,391.36 634.78,408.54 646.49,423.92 652.35,404.96 658.21,417.48 664.06,389.93 669.92,404.96 675.77,402.1 681.63,344.13 687.48,367.39 693.34,362.74 699.19,403.88 705.05,410.68 710.91,411.4 716.76,399.05 722.62,403.88 728.47,398.16 734.33,408.89 740.18,403.17 746.04,401.38 751.89,407.11 757.75,392.08 763.61,393.15 769.46,393.15 775.32,389.22" fill="none" stroke="#ff0000" stroke-width="1.6" stroke-linejoin="round"/>
<g fill="#ff0000"><circle cx="593.79" cy="381.7" r="3.4"/><circle cx="599.65" cy="355.22" r="3.4"/><circle cx="605.51" cy="399.59" r="3.4"/><circle cx="617.22" cy="391.36" r="3.4"/><circle cx="634.78" cy="408.54" r="3.4"/><circle cx="646.49" cy="423.92" r="3.4"/><circle cx="652.35" cy="404.96" r="3.4"/><circle cx="658.21" cy="417.48" r="3.4"/><circle cx="664.06" cy="389.93" r="3.4"/><circle cx="669.92" cy="404.96" r="3.4"/><circle cx="675.77" cy="402.1" r="3.4"/><circle cx="681.63" cy="344.13" r="3.4"/><circle cx="687.48" cy="367.39" r="3.4"/><circle cx="693.34" cy="362.74" r="3.4"/><circle cx="699.19" cy="403.88" r="3.4"/><circle cx="705.05" cy="410.68" r="3.4"/><circle cx="710.91" cy="411.4" r="3.4"/><circle cx="716.76" cy="399.05" r="3.4"/><circle cx="722.62" cy="403.88" r="3.4"/><circle cx="728.47" cy="398.16" r="3.4"/><circle cx="734.33" cy="408.89" r="3.4"/><circle cx="740.18" cy="403.17" r="3.4"/><circle cx="746.04" cy="401.38" r="3.4"/><circle cx="751.89" cy="407.11" r="3.4"/><circle cx="757.75" cy="392.08" r="3.4"/><circle cx="763.61" cy="393.15" r="3.4"/><circle cx="769.46" cy="393.15" r="3.4"/><circle cx="775.32" cy="389.22" r="3.4"/></g>
<polyline points="593.79,396.55 599.65,363.1 605.51,400.66 617.22,380.63 634.78,411.04 646.49,416.77 652.35,398.16 658.21,383.49 664.06,370.43 669.92,388.5 675.77,386.71 681.63,328.75 687.48,360.23 693.34,348.78 699.19,379.91 705.05,396.37 710.91,390.65 716.76,387.43 722.62,395.66 728.47,387.43 734.33,392.08 740.18,391.36 746.04,388.86 751.89,394.58 757.75,386 763.61,387.43 769.46,398.52 775.32,394.94" fill="none" stroke="#0000ff" stroke-width="1.6" stroke-linejoin="round"/>
<g fill="#0000ff"><circle cx="593.79" cy="396.55" r="3.4"/><circle cx="599.65" cy="363.1" r="3.4"/><circle cx="605.51" cy="400.66" r="3.4"/><circle cx="617.22" cy="380.63" r="3.4"/><circle cx="634.78" cy="411.04" r="3.4"/><circle cx="646.49" cy="416.77" r="3.4"/><circle cx="652.35" cy="398.16" r="3.4"/><circle cx="658.21" cy="383.49" r="3.4"/><circle cx="664.06" cy="370.43" r="3.4"/><circle cx="669.92" cy="388.5" r="3.4"/><circle cx="675.77" cy="386.71" r="3.4"/><circle cx="681.63" cy="328.75" r="3.4"/><circle cx="687.48" cy="360.23" r="3.4"/><circle cx="693.34" cy="348.78" r="3.4"/><circle cx="699.19" cy="379.91" r="3.4"/><circle cx="705.05" cy="396.37" r="3.4"/><circle cx="710.91" cy="390.65" r="3.4"/><circle cx="716.76" cy="387.43" r="3.4"/><circle cx="722.62" cy="395.66" r="3.4"/><circle cx="728.47" cy="387.43" r="3.4"/><circle cx="734.33" cy="392.08" r="3.4"/><circle cx="740.18" cy="391.36" r="3.4"/><circle cx="746.04" cy="388.86" r="3.4"/><circle cx="751.89" cy="394.58" r="3.4"/><circle cx="757.75" cy="386" r="3.4"/><circle cx="763.61" cy="387.43" r="3.4"/><circle cx="769.46" cy="398.52" r="3.4"/><circle cx="775.32" cy="394.94" r="3.4"/></g>
<path d="M608.43 466.5v-4.2M608.43 287.6v4.2M643.57 466.5v-4.2M643.57 287.6v4.2M678.7 466.5v-4.2M678.7 287.6v4.2M713.83 466.5v-4.2M713.83 287.6v4.2M748.97 466.5v-4.2M748.97 287.6v4.2M573.3 462.92h2.2M784.1 462.92h-2.2M573.3 459.34h2.2M784.1 459.34h-2.2M573.3 455.77h2.2M784.1 455.77h-2.2M573.3 452.19h2.2M784.1 452.19h-2.2M573.3 448.61h2.2M784.1 448.61h-2.2M573.3 445.03h2.2M784.1 445.03h-2.2M573.3 441.45h2.2M784.1 441.45h-2.2M573.3 437.88h2.2M784.1 437.88h-2.2M573.3 434.3h2.2M784.1 434.3h-2.2M573.3 430.72h4.2M784.1 430.72h-4.2M573.3 427.14h2.2M784.1 427.14h-2.2M573.3 423.56h2.2M784.1 423.56h-2.2M573.3 419.99h2.2M784.1 419.99h-2.2M573.3 416.41h2.2M784.1 416.41h-2.2M573.3 412.83h2.2M784.1 412.83h-2.2M573.3 409.25h2.2M784.1 409.25h-2.2M573.3 405.67h2.2M784.1 405.67h-2.2M573.3 402.1h2.2M784.1 402.1h-2.2M573.3 398.52h2.2M784.1 398.52h-2.2M573.3 394.94h4.2M784.1 394.94h-4.2M573.3 391.36h2.2M784.1 391.36h-2.2M573.3 387.78h2.2M784.1 387.78h-2.2M573.3 384.21h2.2M784.1 384.21h-2.2M573.3 380.63h2.2M784.1 380.63h-2.2M573.3 377.05h2.2M784.1 377.05h-2.2M573.3 373.47h2.2M784.1 373.47h-2.2M573.3 369.89h2.2M784.1 369.89h-2.2M573.3 366.32h2.2M784.1 366.32h-2.2M573.3 362.74h2.2M784.1 362.74h-2.2M573.3 359.16h4.2M784.1 359.16h-4.2M573.3 355.58h2.2M784.1 355.58h-2.2M573.3 352h2.2M784.1 352h-2.2M573.3 348.43h2.2M784.1 348.43h-2.2M573.3 344.85h2.2M784.1 344.85h-2.2M573.3 341.27h2.2M784.1 341.27h-2.2M573.3 337.69h2.2M784.1 337.69h-2.2M573.3 334.11h2.2M784.1 334.11h-2.2M573.3 330.54h2.2M784.1 330.54h-2.2M573.3 326.96h2.2M784.1 326.96h-2.2M573.3 323.38h4.2M784.1 323.38h-4.2M573.3 319.8h2.2M784.1 319.8h-2.2M573.3 316.22h2.2M784.1 316.22h-2.2M573.3 312.65h2.2M784.1 312.65h-2.2M573.3 309.07h2.2M784.1 309.07h-2.2M573.3 305.49h2.2M784.1 305.49h-2.2M573.3 301.91h2.2M784.1 301.91h-2.2M573.3 298.33h2.2M784.1 298.33h-2.2M573.3 294.76h2.2M784.1 294.76h-2.2M573.3 291.18h2.2M784.1 291.18h-2.2" stroke="#000" stroke-width="1.6" fill="none"/>
<rect x="573.3" y="287.6" width="210.8" height="178.9" fill="none" stroke="#000" stroke-width="1.6"/>
<text x="575.8" y="305.4" font-size="20.8">(f)</text>
<g font-size="12.5" text-anchor="middle"><text x="573.3" y="482.7">90S</text><text x="608.43" y="482.7">60S</text><text x="643.57" y="482.7">30S</text><text x="678.7" y="482.7">EQ</text><text x="713.83" y="482.7">30N</text><text x="748.97" y="482.7">60N</text><text x="784.1" y="482.7">90N</text></g>
<g font-size="12.5" text-anchor="end"><text x="569.7" y="467.4">0</text><text x="569.7" y="435.02">10</text><text x="569.7" y="399.24">20</text><text x="569.7" y="363.46">30</text><text x="569.7" y="327.68">40</text><text x="569.7" y="294.6">50</text></g>
<text transform="translate(544.9,377.05) rotate(-90)" font-size="13.1" text-anchor="middle">St. dev. [%]</text>
<text x="678.7" y="496.9" font-size="12.7" text-anchor="middle">latitude</text>
</svg>
</body></html>
